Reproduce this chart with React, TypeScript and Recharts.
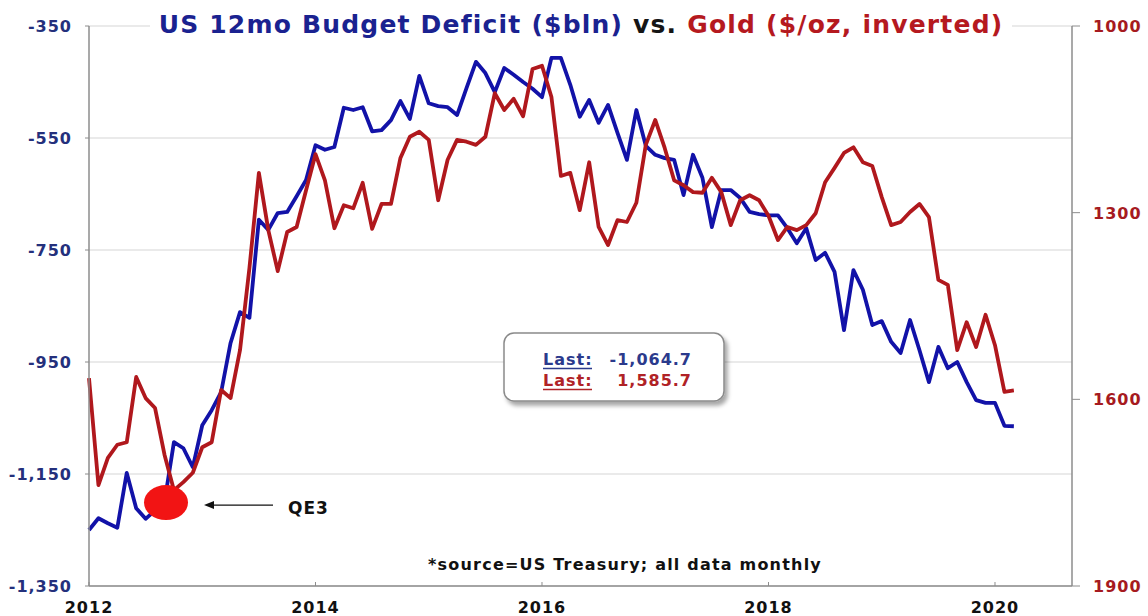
import React from 'react';
import { LineChart, Line, XAxis, YAxis, CartesianGrid, ReferenceDot } from 'recharts';

const FONT = '"DejaVu Sans", "Liberation Sans", Arial, sans-serif';

// monthly, Jan 2012 .. Mar 2020
const START_YEAR = 2012;

const deficit = [
  -1250, -1229, -1238, -1246, -1148, -1211, -1230, -1215, -1200, -1093, -1104, -1138,
  -1063, -1036, -1004, -916, -861, -871, -696, -714, -684, -682, -654, -625,
  -563, -571, -566, -496, -500, -495, -538, -536, -518, -484, -516, -439,
  -488, -493, -495, -509, -461, -414, -434, -468, -425, -437, -450, -462,
  -477, -407, -407, -455, -512, -482, -523, -491, -541, -589, -500, -564,
  -580, -586, -589, -652, -580, -621, -709, -643, -643, -657, -682, -686,
  -688, -688, -711, -738, -711, -768, -755, -789, -893, -786, -821, -884,
  -877, -914, -934, -875, -929, -986, -923, -961, -950, -986, -1018, -1023,
  -1023, -1064, -1064.7,
];

const gold = [
  1566, 1738, 1694, 1673, 1669, 1564, 1598, 1614, 1689, 1746, 1733, 1718,
  1677, 1669, 1585, 1598, 1521, 1389, 1236, 1328, 1394, 1331, 1323, 1264,
  1206, 1248, 1325, 1288, 1293, 1252, 1326, 1286, 1286, 1212, 1178, 1170,
  1183, 1280, 1215, 1183, 1186, 1191, 1178, 1108, 1135, 1117, 1145, 1069,
  1064, 1114, 1241, 1236, 1296, 1219, 1323, 1352, 1312, 1315, 1284, 1191,
  1151, 1196, 1248, 1256, 1267, 1268, 1244, 1267, 1320, 1280, 1272, 1280,
  1305, 1344, 1323, 1328, 1320, 1301, 1251, 1228, 1204, 1195, 1219, 1225,
  1275, 1320, 1315, 1299, 1286, 1307, 1408, 1416, 1521, 1476, 1516, 1464,
  1513, 1588, 1585.7,
];

const yearTicks = [2012, 2014, 2016, 2018, 2020];
const deficitTicks = [-1350, -1150, -950, -750, -550, -350];
const goldTicks = [1000, 1300, 1600, 1900];

const QE3_DATE = 2012.68;
const QE3_LEVEL = -1201;

const data = deficit.map((d, i) => ({
  t: START_YEAR + i / 12,
  deficit: d,
  gold: gold[i],
}));

const BLUE = '#1212a8';
const RED = '#b0181d';
const NAVY_TXT = '#24307c';
const RED_TXT = '#a61a20';
const AXIS = '#8c8c8c';

const fmt = (v: number) => v.toLocaleString('en-US');

function LeftTick(props: any) {
  const { x, y, payload } = props;
  return (
    <text x={x - 11} y={y + 6} textAnchor="end" fill={NAVY_TXT} fontSize={16}
      fontWeight="bold" fontFamily={FONT} letterSpacing={1}>
      {fmt(payload.value)}
    </text>
  );
}

function RightTick(props: any) {
  const { x, y, payload } = props;
  return (
    <text x={x + 11} y={y + 6} textAnchor="start" fill={RED_TXT} fontSize={16}
      fontWeight="bold" fontFamily={FONT} letterSpacing={1}>
      {payload.value}
    </text>
  );
}

function BottomTick(props: any) {
  const { x, y, payload } = props;
  return (
    <g>
      <line x1={x} y1={y - 8} x2={x} y2={y - 12} stroke={AXIS} strokeWidth={1} />
      <text x={x} y={y + 19} textAnchor="middle" fill="#111" fontSize={16}
        fontWeight="bold" fontFamily={FONT} letterSpacing={1}>
        {payload.value}
      </text>
    </g>
  );
}

function Qe3Marker(props: any) {
  const { cx, cy } = props;
  if (cx == null || cy == null) return null;
  const ay = cy + 2.5;
  return (
    <g>
      <ellipse cx={cx} cy={cy} rx={22} ry={17.5} fill="#f21414" />
      <line x1={cx + 46} y1={ay} x2={cx + 107} y2={ay} stroke="#111" strokeWidth={1.3} />
      <polygon points={`${cx + 38},${ay} ${cx + 48},${ay - 4} ${cx + 48},${ay + 4}`} fill="#111" />
      <text x={cx + 122} y={cy + 11} fontSize={17} fontWeight="bold" fontFamily={FONT}
        fill="#111" letterSpacing={1}>
        QE3
      </text>
    </g>
  );
}

export default function App() {
  return (
    <div style={{ position: 'absolute', left: 0, top: 0, width: 1148, height: 616, background: '#fff' }}>
      <LineChart width={1148} height={616} data={data}
        margin={{ top: 26, right: 0, bottom: 0, left: 0 }}>
        <CartesianGrid vertical={false} stroke="#d6d6d6" strokeWidth={1.2} yAxisId="left" />
        <XAxis dataKey="t" type="number" domain={[2012, 2020.68]} ticks={yearTicks}
          interval={0} height={30} tickSize={6} tickLine={false}
          axisLine={{ stroke: AXIS, strokeWidth: 1.5 }} tick={<BottomTick />} />
        <YAxis yAxisId="left" orientation="left" domain={[-1350, -350]} ticks={deficitTicks}
          interval={0} width={89} tickSize={4} tickLine={{ stroke: AXIS }}
          axisLine={{ stroke: AXIS, strokeWidth: 1.5 }} tick={<LeftTick />} />
        <YAxis yAxisId="right" orientation="right" reversed domain={[1000, 1900]} ticks={goldTicks}
          interval={0} width={76} tickSize={8} tickLine={{ stroke: AXIS }}
          axisLine={{ stroke: AXIS, strokeWidth: 1.5 }} tick={<RightTick />} />
        <Line yAxisId="left" type="linear" dataKey="deficit" stroke={BLUE} strokeWidth={3.8}
          dot={false} strokeLinejoin="round" isAnimationActive={false} />
        <Line yAxisId="right" type="linear" dataKey="gold" stroke={RED} strokeWidth={3.8}
          dot={false} strokeLinejoin="round" isAnimationActive={false} />
        <ReferenceDot yAxisId="left" x={QE3_DATE} y={QE3_LEVEL} r={18}
          shape={<Qe3Marker />} ifOverflow="visible" />
      </LineChart>
      <svg width={1148} height={616}
        style={{ position: 'absolute', left: 0, top: 0, pointerEvents: 'none' }}>
        <defs>
          <filter id="boxShadow" x="-10%" y="-10%" width="130%" height="140%">
            <feDropShadow dx={3} dy={4} stdDeviation={2} floodColor="#000" floodOpacity={0.35} />
          </filter>
        </defs>
        <rect x={150} y={12} width={862} height={28} fill="#fff" />
        <text x={581} y={33} textAnchor="middle" fontSize={25} fontWeight="bold"
          fontFamily={FONT} letterSpacing={1.2}>
          <tspan fill="#1a2290">US 12mo Budget Deficit ($bln)</tspan>
          <tspan fill="#151515"> vs. </tspan>
          <tspan fill="#b5191f">Gold ($/oz, inverted)</tspan>
        </text>
        <rect x={504} y={333} width={220} height={68} rx={10} ry={10} fill="#fff"
          stroke="#8a8a8a" strokeWidth={1.5} filter="url(#boxShadow)" />
        <g fontSize={16} fontWeight="bold" fontFamily={FONT} letterSpacing={1}>
          <text x={543} y={365} fill="#2b3a8c">Last:</text>
          <line x1={543} y1={368.5} x2={592} y2={368.5} stroke="#2b3a8c" strokeWidth={1.5} />
          <text x={692} y={365} textAnchor="end" fill="#2b3a8c">-1,064.7</text>
          <text x={543} y={386} fill="#b02226">Last:</text>
          <line x1={543} y1={389.5} x2={592} y2={389.5} stroke="#b02226" strokeWidth={1.5} />
          <text x={692} y={386} textAnchor="end" fill="#b02226">1,585.7</text>
        </g>
        <text x={625} y={570} textAnchor="middle" fontSize={16} fontWeight="bold"
          fontFamily={FONT} letterSpacing={1.2} fill="#111">
          *source=US Treasury; all data monthly
        </text>
      </svg>
    </div>
  );
}
